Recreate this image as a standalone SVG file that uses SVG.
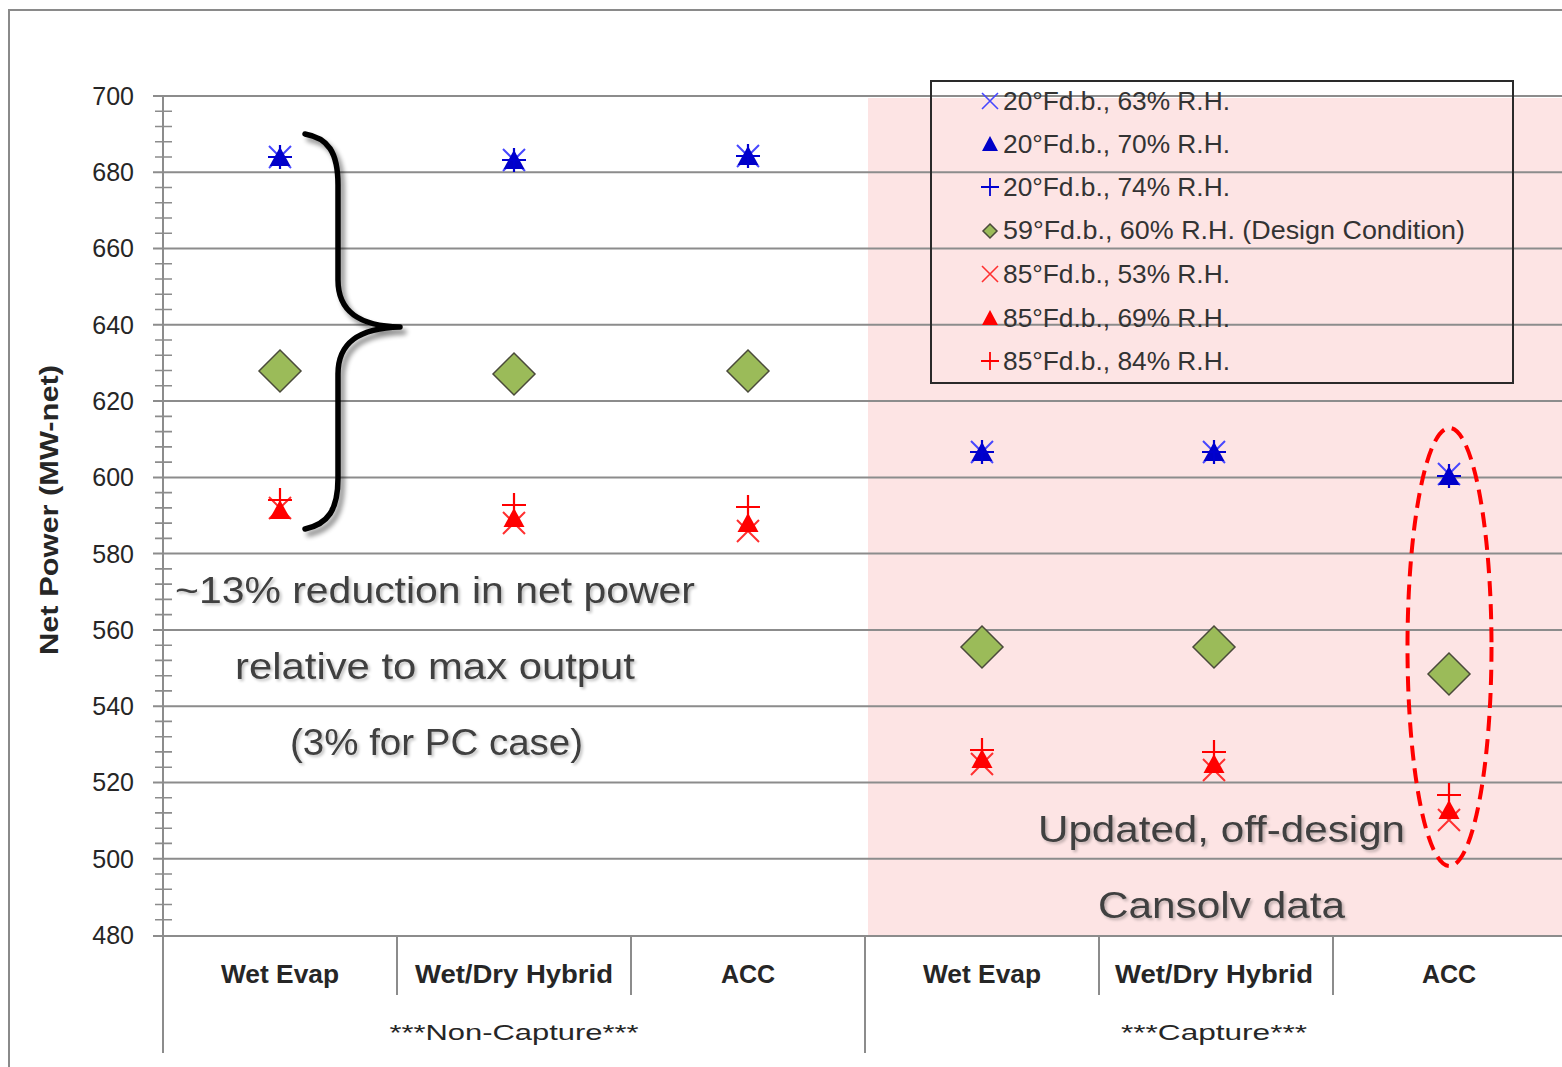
<svg xmlns="http://www.w3.org/2000/svg" xmlns:xlink="http://www.w3.org/1999/xlink" width="1562" height="1067" viewBox="0 0 1562 1067">
  <style>
    .txt { font-family: "Liberation Sans", Arial, sans-serif; fill: #262626; }
    .tick { font-size: 25px; text-anchor: end; }
    .cat { font-size: 25px; font-weight: bold; text-anchor: middle; }
    .grp { font-size: 22px; text-anchor: middle; }
    .leg { font-size: 25px; fill: #333333; }
    .note { font-family: "Liberation Sans", Arial, sans-serif; font-size: 36px; fill: #3f3f3f; filter: url(#soft); }
    .grid { stroke: #8c8c8c; stroke-width: 2; fill: none; }
    .axis { stroke: #8c8c8c; stroke-width: 2; fill: none; }
    .minor { stroke: #8c8c8c; stroke-width: 1.6; }
    .diamond { fill: #9bbb59; stroke: #4a4a3a; stroke-width: 1.5; }
  </style>
  <defs>
    <filter id="shadow" x="-50%" y="-10%" width="200%" height="120%">
      <feGaussianBlur in="SourceAlpha" stdDeviation="2.5"/>
      <feOffset dx="4" dy="5" result="b"/>
      <feComponentTransfer><feFuncA type="linear" slope="0.45"/></feComponentTransfer>
      <feMerge><feMergeNode/><feMergeNode in="SourceGraphic"/></feMerge>
    </filter>
    <filter id="soft" x="-5%" y="-30%" width="110%" height="160%">
      <feGaussianBlur in="SourceAlpha" stdDeviation="1.5"/>
      <feOffset dx="1.5" dy="1.5"/>
      <feComponentTransfer><feFuncA type="linear" slope="0.25"/></feComponentTransfer>
      <feMerge><feMergeNode/><feMergeNode in="SourceGraphic"/></feMerge>
    </filter>
    <!-- data markers -->
    <path id="mx" d="M-11,-11L11,11M-11,11L11,-11" fill="none" stroke-width="2"/>
    <path id="mtri" d="M0,-11L10.5,8L-10.5,8Z" stroke="none"/>
    <path id="mplus" d="M-12,0H12M0,-12V12" fill="none" stroke-width="2.2"/>
    <path id="mdia" d="M0,-21L21,0L0,21L-21,0Z"/>
    <!-- legend markers -->
    <path id="lx" d="M-8,-8L8,8M-8,8L8,-8" fill="none" stroke-width="1.6"/>
    <path id="ltri" d="M0,-8L8,7L-8,7Z" stroke="none"/>
    <path id="lplus" d="M-9,0H9M0,-9V9" fill="none" stroke-width="1.8"/>
    <path id="ldia" d="M0,-7L7,0L0,7L-7,0Z"/>
  </defs>

  <rect width="1562" height="1067" fill="#ffffff"/>
  <!-- chart frame -->
  <rect id="frame" x="9" y="10" width="1600" height="1100" fill="none" stroke="#8a8a8a" stroke-width="2"/>

  <!-- capture-case shaded band -->
  <rect id="capture-band" x="868" y="98" width="700" height="839" fill="#fde4e4"/>

  <!-- horizontal gridlines -->
  <g id="gridlines" class="grid">
    <path d="M153,96H1562M153,172.3H1562M153,248.5H1562M153,324.8H1562M153,401.1H1562M153,477.4H1562M153,553.6H1562M153,629.9H1562M153,706.2H1562M153,782.5H1562M153,858.7H1562M153,936H1562"/>
  </g>

  <!-- value axis with minor ticks -->
  <g id="value-axis">
    <path class="axis" d="M163,96V1053"/>
    <g class="minor">
      <path d="M155,111.3H172M155,126.5H172M155,141.8H172M155,157H172
               M155,187.5H172M155,202.8H172M155,218H172M155,233.3H172
               M155,263.8H172M155,279H172M155,294.3H172M155,309.5H172
               M155,340H172M155,355.3H172M155,370.5H172M155,385.8H172
               M155,416.4H172M155,431.6H172M155,446.9H172M155,462.1H172
               M155,492.6H172M155,507.9H172M155,523.1H172M155,538.4H172
               M155,568.9H172M155,584.1H172M155,599.4H172M155,614.6H172
               M155,645.2H172M155,660.4H172M155,675.7H172M155,690.9H172
               M155,721.4H172M155,736.7H172M155,751.9H172M155,767.2H172
               M155,797.7H172M155,812.9H172M155,828.2H172M155,843.4H172
               M155,874H172M155,889.2H172M155,904.5H172M155,919.7H172"/>
    </g>
    <g class="txt tick">
      <text x="134" y="105">700</text>
      <text x="134" y="181">680</text>
      <text x="134" y="257">660</text>
      <text x="134" y="334">640</text>
      <text x="134" y="410">620</text>
      <text x="134" y="486">600</text>
      <text x="134" y="563">580</text>
      <text x="134" y="639">560</text>
      <text x="134" y="715">540</text>
      <text x="134" y="791">520</text>
      <text x="134" y="868">500</text>
      <text x="134" y="944">480</text>
    </g>
    <text class="txt" font-size="25" font-weight="bold" text-anchor="middle" transform="translate(58,510) rotate(-90)" textLength="290" lengthAdjust="spacingAndGlyphs">Net Power (MW-net)</text>
  </g>

  <!-- category axis -->
  <g id="category-axis">
    <path class="axis" d="M397,937V995M631,937V995M1099,937V995M1333,937V995M865,937V1053"/>
    <g class="txt cat">
      <text x="280" y="983" textLength="118" lengthAdjust="spacingAndGlyphs">Wet Evap</text>
      <text x="514" y="983" textLength="198" lengthAdjust="spacingAndGlyphs">Wet/Dry Hybrid</text>
      <text x="748" y="983">ACC</text>
      <text x="982" y="983" textLength="118" lengthAdjust="spacingAndGlyphs">Wet Evap</text>
      <text x="1214" y="983" textLength="198" lengthAdjust="spacingAndGlyphs">Wet/Dry Hybrid</text>
      <text x="1449" y="983">ACC</text>
    </g>
    <g class="txt grp">
      <text x="514" y="1040" textLength="249" lengthAdjust="spacingAndGlyphs">***Non-Capture***</text>
      <text x="1214" y="1040" textLength="186" lengthAdjust="spacingAndGlyphs">***Capture***</text>
    </g>
  </g>

  <!-- series: 20 F d.b. -->
  <g id="series-20F-63RH" stroke="#4646ff">
    <use href="#mx" x="280" y="157"/>
    <use href="#mx" x="514" y="160"/>
    <use href="#mx" x="748" y="156"/>
    <use href="#mx" x="982" y="452"/>
    <use href="#mx" x="1214" y="452"/>
    <use href="#mx" x="1449" y="474"/>
  </g>
  <g id="series-20F-70RH" fill="#0000c8">
    <use href="#mtri" x="280" y="158"/>
    <use href="#mtri" x="514" y="161"/>
    <use href="#mtri" x="748" y="157"/>
    <use href="#mtri" x="982" y="453"/>
    <use href="#mtri" x="1214" y="453"/>
    <use href="#mtri" x="1449" y="477"/>
  </g>
  <g id="series-20F-74RH" stroke="#0000d0">
    <use href="#mplus" x="280" y="157"/>
    <use href="#mplus" x="514" y="160"/>
    <use href="#mplus" x="748" y="156"/>
    <use href="#mplus" x="982" y="452"/>
    <use href="#mplus" x="1214" y="452"/>
    <use href="#mplus" x="1449" y="476"/>
  </g>

  <!-- series: 59 F design condition -->
  <g id="series-59F-60RH" class="diamond">
    <use href="#mdia" x="280" y="371"/>
    <use href="#mdia" x="514" y="374"/>
    <use href="#mdia" x="748" y="371"/>
    <use href="#mdia" x="982" y="647"/>
    <use href="#mdia" x="1214" y="647"/>
    <use href="#mdia" x="1449" y="674"/>
  </g>

  <!-- series: 85 F d.b. -->
  <g id="series-85F-53RH" stroke="#ff3030">
    <use href="#mx" x="280" y="508"/>
    <use href="#mx" x="514" y="523"/>
    <use href="#mx" x="748" y="531"/>
    <use href="#mx" x="982" y="764"/>
    <use href="#mx" x="1214" y="770"/>
    <use href="#mx" x="1449" y="820"/>
  </g>
  <g id="series-85F-69RH" fill="#ff0000">
    <use href="#mtri" x="280" y="511"/>
    <use href="#mtri" x="514" y="519"/>
    <use href="#mtri" x="748" y="524"/>
    <use href="#mtri" x="982" y="760"/>
    <use href="#mtri" x="1214" y="765"/>
    <use href="#mtri" x="1449" y="811"/>
  </g>
  <g id="series-85F-84RH" stroke="#ff0000">
    <use href="#mplus" x="280" y="500"/>
    <use href="#mplus" x="514" y="505"/>
    <use href="#mplus" x="748" y="507"/>
    <use href="#mplus" x="982" y="750"/>
    <use href="#mplus" x="1214" y="752"/>
    <use href="#mplus" x="1449" y="795"/>
  </g>

  <!-- legend -->
  <g id="legend">
    <rect x="931" y="81" width="582" height="302" fill="none" stroke="#2a2a2a" stroke-width="2"/>
    <use href="#lx" x="990" y="101" stroke="#4646ff"/>
    <use href="#ltri" x="990" y="144" fill="#0000c8"/>
    <use href="#lplus" x="990" y="187" stroke="#0000d0"/>
    <use href="#ldia" x="990" y="231" class="diamond"/>
    <use href="#lx" x="990" y="274" stroke="#ff3030"/>
    <use href="#ltri" x="990" y="318" fill="#ff0000"/>
    <use href="#lplus" x="990" y="361" stroke="#ff0000"/>
    <g class="txt leg">
      <text x="1003" y="110" textLength="227" lengthAdjust="spacingAndGlyphs">20°Fd.b., 63% R.H.</text>
      <text x="1003" y="153" textLength="227" lengthAdjust="spacingAndGlyphs">20°Fd.b., 70% R.H.</text>
      <text x="1003" y="196" textLength="227" lengthAdjust="spacingAndGlyphs">20°Fd.b., 74% R.H.</text>
      <text x="1003" y="239" textLength="462" lengthAdjust="spacingAndGlyphs">59°Fd.b., 60% R.H. (Design Condition)</text>
      <text x="1003" y="283" textLength="227" lengthAdjust="spacingAndGlyphs">85°Fd.b., 53% R.H.</text>
      <text x="1003" y="327" textLength="227" lengthAdjust="spacingAndGlyphs">85°Fd.b., 69% R.H.</text>
      <text x="1003" y="370" textLength="227" lengthAdjust="spacingAndGlyphs">85°Fd.b., 84% R.H.</text>
    </g>
  </g>

  <!-- annotation: spread bracket over non-capture wet evap -->
  <g id="brace" filter="url(#shadow)">
    <path d="M305,134 C328,138 338,152 338,185 V280 C338,312 360,326 400,327 C360,328 338,342 338,374 V478 C338,510 328,524 305,529" fill="none" stroke="#000000" stroke-width="5.5" stroke-linecap="round" stroke-linejoin="round"/>
  </g>

  <!-- annotation: updated ACC capture case -->
  <ellipse id="acc-highlight" cx="1449.5" cy="647" rx="42" ry="219" fill="none" stroke="#ff0000" stroke-width="4" stroke-dasharray="15 8"/>

  <g id="notes">
    <text class="note" x="175" y="603" textLength="520" lengthAdjust="spacingAndGlyphs">~13% reduction in net power</text>
    <text class="note" x="235" y="679" textLength="400" lengthAdjust="spacingAndGlyphs">relative to max output</text>
    <text class="note" x="290" y="755" textLength="293" lengthAdjust="spacingAndGlyphs">(3% for PC case)</text>
    <text class="note" x="1038" y="842" textLength="367" lengthAdjust="spacingAndGlyphs">Updated, off-design</text>
    <text class="note" x="1098" y="918" textLength="247" lengthAdjust="spacingAndGlyphs">Cansolv data</text>
  </g>
</svg>
